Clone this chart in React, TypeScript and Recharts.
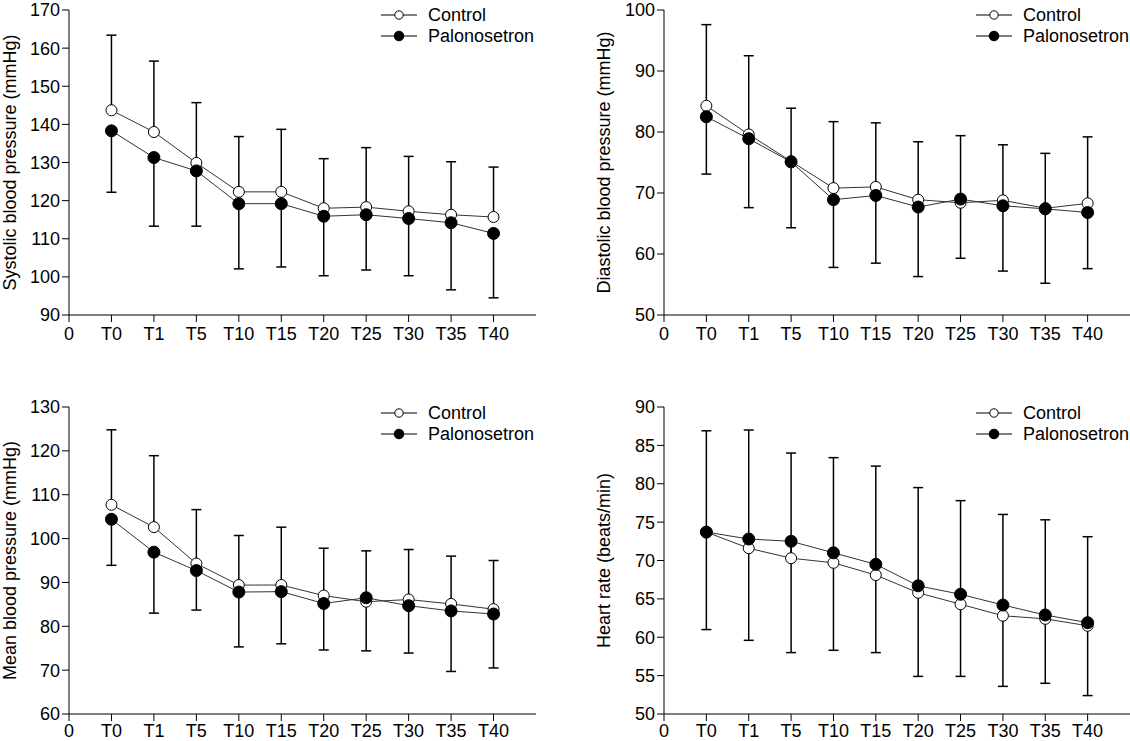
import React from 'react';
import { LineChart, Line, XAxis, YAxis, ErrorBar, Legend, Label } from 'recharts';

const timePoints = ['T0', 'T1', 'T5', 'T10', 'T15', 'T20', 'T25', 'T30', 'T35', 'T40'];
const xTickLabels = ['0', ...timePoints];
const seriesNames = ['Control', 'Palonosetron'];

const sbpControl = [143.7, 138.0, 129.9, 122.3, 122.3, 118.0, 118.3, 117.2, 116.3, 115.7];
const sbpControlSd = [19.7, 18.6, 15.8, 14.5, 16.4, 13.0, 15.6, 14.4, 13.9, 13.1];
const sbpPalo = [138.3, 131.3, 127.8, 119.2, 119.2, 115.9, 116.3, 115.3, 114.2, 111.4];
const sbpPaloSd = [16.1, 18.0, 14.5, 17.1, 16.6, 15.6, 14.5, 15.0, 17.6, 16.9];
const sbpTicks = [90, 100, 110, 120, 130, 140, 150, 160, 170];

const dbpControl = [84.3, 79.6, 75.2, 70.8, 71.0, 68.9, 68.4, 68.8, 67.5, 68.3];
const dbpControlSd = [13.3, 12.9, 8.7, 10.9, 10.5, 9.5, 11.0, 9.1, 9.0, 10.9];
const dbpPalo = [82.5, 78.9, 75.1, 68.9, 69.6, 67.7, 69.0, 67.9, 67.4, 66.8];
const dbpPaloSd = [9.4, 11.3, 10.8, 11.1, 11.1, 11.4, 9.7, 10.7, 12.2, 9.2];
const dbpTicks = [50, 60, 70, 80, 90, 100];

const mbpControl = [107.7, 102.6, 94.3, 89.4, 89.4, 87.0, 85.6, 86.1, 85.1, 83.9];
const mbpControlSd = [17.1, 16.3, 12.3, 11.3, 13.2, 10.8, 11.6, 11.4, 10.9, 11.1];
const mbpPalo = [104.4, 96.9, 92.7, 87.8, 87.9, 85.2, 86.5, 84.7, 83.5, 82.8];
const mbpPaloSd = [10.5, 13.9, 9.0, 12.5, 11.9, 10.6, 12.1, 10.8, 13.8, 12.3];
const mbpTicks = [60, 70, 80, 90, 100, 110, 120, 130];

const hrControl = [73.7, 71.6, 70.3, 69.7, 68.1, 65.8, 64.3, 62.8, 62.4, 61.5];
const hrControlSd = [13.2, 15.4, 13.7, 13.7, 14.2, 13.7, 13.5, 13.2, 12.9, 11.6];
const hrPalo = [73.7, 72.8, 72.5, 71.0, 69.5, 66.7, 65.6, 64.2, 62.9, 61.9];
const hrPaloSd = [12.7, 13.2, 14.5, 12.7, 11.5, 11.8, 10.7, 10.6, 8.9, 9.5];
const hrTicks = [50, 55, 60, 65, 70, 75, 80, 85, 90];

const xTicks = [0, 1, 2, 3, 4, 5, 6, 7, 8, 9, 10];

const FONT = 18;

function LegendBox({ payload, rowTop }: any) {
  const names = payload && payload.length ? payload.map((p: any) => p.value) : seriesNames;
  const rows = [rowTop, rowTop + 21];
  return (
    <svg width={220} height={50} style={{ overflow: 'visible', display: 'block' }}>
      {names.map((n: string, i: number) => (
        <g key={n}>
          <line x1={0} x2={36} y1={rows[i]} y2={rows[i]} stroke="#000" strokeWidth={1} />
          <circle cx={18} cy={rows[i]} r={i === 0 ? 4.2 : 4.8} fill={i === 0 ? '#fff' : '#000'} stroke="#000" strokeWidth={1} />
          <text x={47} y={rows[i] - 0.5} fontSize={FONT} fill="#000" dominantBaseline="central">{n}</text>
        </g>
      ))}
    </svg>
  );
}

type PanelProps = {
  left: number;
  top: number;
  height: number;
  yLabel: string;
  yTicks: number[];
  control: number[];
  controlSd: number[];
  palo: number[];
  paloSd: number[];
  yAxisWidth: number;
  rightMargin: number;
  legendLeft: number;
  legendRow: number;
  labelOffset: number;
  topMargin: number;
  xTickMargin: number;
};

function Panel(p: PanelProps) {
  const data = timePoints.map((t, i) => ({
    x: i + 1,
    t,
    control: p.control[i],
    controlErr: [0, p.controlSd[i]],
    palo: p.palo[i],
    paloErr: [p.paloSd[i], 0],
  }));
  const dom: [number, number] = [p.yTicks[0], p.yTicks[p.yTicks.length - 1]];
  return (
    <div style={{ position: 'absolute', left: p.left, top: p.top }}>
      <LineChart width={565} height={p.height} data={data} margin={{ top: p.topMargin, right: p.rightMargin, left: 0, bottom: 0 }}>
        <XAxis
          type="number"
          dataKey="x"
          domain={[0, 11]}
          ticks={xTicks}
          interval={0}
          allowDataOverflow
          height={37}
          stroke="#000"
          tickSize={7}
          tickMargin={p.xTickMargin}
          tick={{ fill: '#000', fontSize: FONT }}
          tickFormatter={(v: number) => xTickLabels[v]}
        />
        <YAxis
          type="number"
          domain={dom}
          ticks={p.yTicks}
          interval={0}
          allowDataOverflow
          width={p.yAxisWidth}
          stroke="#000"
          tickSize={7}
          tick={{ fill: '#000', fontSize: FONT }}
        >
          <Label
            value={p.yLabel}
            angle={-90}
            position="insideLeft"
            offset={p.labelOffset}
            style={{ textAnchor: 'middle', fill: '#000', fontSize: FONT }}
          />
        </YAxis>
        <Legend
          layout="vertical"
          align="center"
          verticalAlign="middle"
          wrapperStyle={{ left: p.legendLeft, top: 0, width: 220, height: 50 }}
          content={(props: any) => <LegendBox {...props} rowTop={p.legendRow} />}
        />
        <Line
          type="linear"
          dataKey="control"
          name={seriesNames[0]}
          stroke="#333"
          strokeWidth={1}
          dot={{ r: 5.5, fill: '#fff', stroke: '#000', strokeWidth: 1 }}
          activeDot={false}
          isAnimationActive={false}
        >
          <ErrorBar dataKey="controlErr" width={5} strokeWidth={1.5} stroke="#000" direction="y" isAnimationActive={false} />
        </Line>
        <Line
          type="linear"
          dataKey="palo"
          name={seriesNames[1]}
          stroke="#333"
          strokeWidth={1}
          dot={{ r: 6, fill: '#000', stroke: '#000', strokeWidth: 1 }}
          activeDot={false}
          isAnimationActive={false}
        >
          <ErrorBar dataKey="paloErr" width={5} strokeWidth={1.5} stroke="#000" direction="y" isAnimationActive={false} />
        </Line>
      </LineChart>
    </div>
  );
}

export default function App() {
  return (
    <div
      style={{
        position: 'absolute',
        left: 0,
        top: 0,
        width: 1130,
        height: 741,
        overflow: 'hidden',
        background: '#fff',
        fontFamily: "Arial, 'Liberation Sans', Helvetica, sans-serif",
      }}
    >
      <Panel left={0} top={0} height={352} topMargin={10} xTickMargin={5} yLabel="Systolic blood pressure (mmHg)" yTicks={sbpTicks}
        control={sbpControl} controlSd={sbpControlSd} palo={sbpPalo} paloSd={sbpPaloSd}
        yAxisWidth={69} rightMargin={29} legendLeft={381} legendRow={15} labelOffset={10} />
      <Panel left={565} top={0} height={352} topMargin={10} xTickMargin={5} yLabel="Diastolic blood pressure (mmHg)" yTicks={dbpTicks}
        control={dbpControl} controlSd={dbpControlSd} palo={dbpPalo} paloSd={dbpPaloSd}
        yAxisWidth={99} rightMargin={0} legendLeft={411} legendRow={15} labelOffset={39} />
      <Panel left={0} top={397} height={354} topMargin={10} xTickMargin={3} yLabel="Mean blood pressure (mmHg)" yTicks={mbpTicks}
        control={mbpControl} controlSd={mbpControlSd} palo={mbpPalo} paloSd={mbpPaloSd}
        yAxisWidth={69} rightMargin={29} legendLeft={381} legendRow={16} labelOffset={10} />
      <Panel left={565} top={397} height={354} topMargin={10} xTickMargin={3} yLabel="Heart rate (beats/min)" yTicks={hrTicks}
        control={hrControl} controlSd={hrControlSd} palo={hrPalo} paloSd={hrPaloSd}
        yAxisWidth={99} rightMargin={0} legendLeft={411} legendRow={16} labelOffset={39} />
    </div>
  );
}
